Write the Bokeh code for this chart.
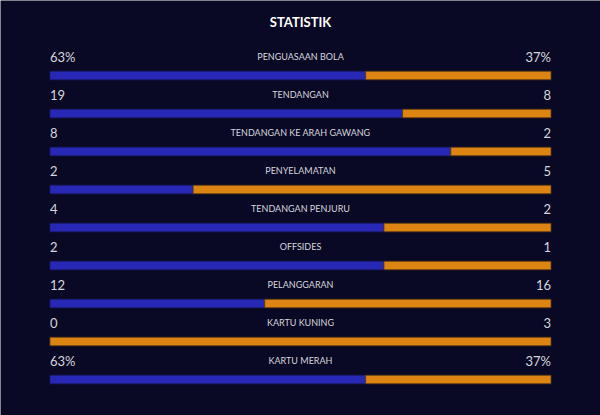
from bokeh.plotting import figure
from bokeh.models import Range1d, ColumnDataSource
from bokeh.core.properties import value
from bokeh.embed import file_html
from bokeh.resources import INLINE

title_text = "STATISTIK"
labels = ["PENGUASAAN BOLA", "TENDANGAN", "TENDANGAN KE ARAH GAWANG", "PENYELAMATAN",
          "TENDANGAN PENJURU", "OFFSIDES", "PELANGGARAN", "KARTU KUNING", "KARTU MERAH"]
home_vals = [63, 19, 8, 2, 4, 2, 12, 0, 63]
away_vals = [37, 8, 2, 5, 2, 1, 16, 3, 37]
home_text = ["63%", "19", "8", "2", "4", "2", "12", "0", "63%"]
away_text = ["37%", "8", "2", "5", "2", "1", "16", "3", "37%"]

BG = "#0a0925"
BLUE = "#2828b6"
ORANGE = "#dd8512"
TXT = "#d6d6de"

ROW = 38.0
BAR_W = 501.0
n = len(labels)
rows = list(range(n))
frac = [h / (h + a) for h, a in zip(home_vals, away_vals)]

src = ColumnDataSource(dict(
    y=rows, frac=frac, zero=[0] * n, one=[1] * n,
    label=labels, ht=home_text, at=away_text,
    mid=[0.5] * n,
))

p = figure(width=600, height=415, output_backend="svg", toolbar_location=None,
           x_range=Range1d(-49.5 / BAR_W, 1 + 49.5 / BAR_W),
           y_range=Range1d((415 - 75) / ROW, -75 / ROW),
           min_border_left=0, min_border_right=0, min_border_top=0, min_border_bottom=0,
           background_fill_color=BG, border_fill_color=BG, outline_line_color=None)
p.xaxis.visible = False
p.yaxis.visible = False
p.xgrid.visible = False
p.ygrid.visible = False

bh = 8.5 / ROW
p.hbar(y="y", left="zero", right="frac", height=bh, source=src,
       fill_color=BLUE, line_color="#1a1a6a", line_width=0.8)
p.hbar(y="y", left="frac", right="one", height=bh, source=src,
       fill_color=ORANGE, line_color="#5a3a10", line_width=0.8)

p.text(x="zero", y="y", text="ht", source=src, y_offset=-19,
       text_align="left", text_baseline="middle", text_color=TXT,
       text_font=value("Lato"), text_font_size="13px")
p.text(x="one", y="y", text="at", source=src, y_offset=-19,
       text_align="right", text_baseline="middle", text_color=TXT,
       text_font=value("Lato"), text_font_size="13px")
p.text(x="mid", y="y", text="label", source=src, y_offset=-19,
       text_align="center", text_baseline="middle", text_color=TXT,
       text_font=value("Lato"), text_font_size="9px")

p.text(x=[0.5], y=[(21 - 75) / ROW], text=[title_text],
       text_align="center", text_baseline="middle", text_color="#ffffff",
       text_font=value("Lato"), text_font_style="bold", text_font_size="13px")

open("out.html", "w").write(file_html(p, INLINE))
